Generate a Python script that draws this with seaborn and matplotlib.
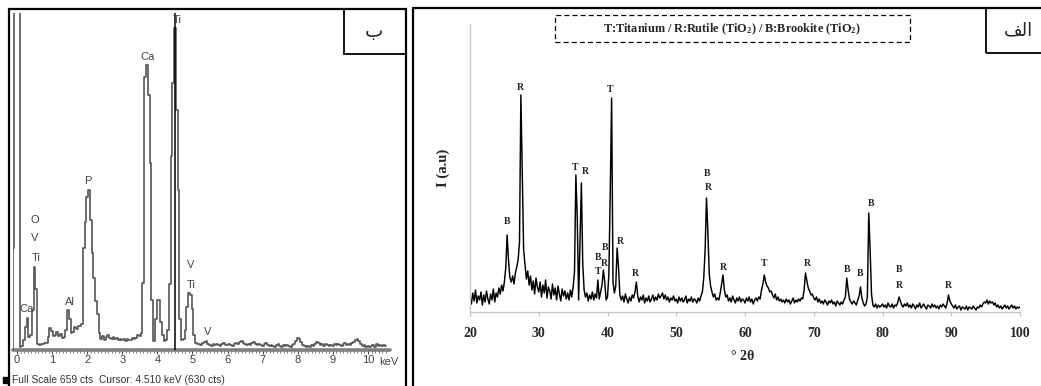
import numpy as np
import matplotlib
matplotlib.use('Agg')
import matplotlib.pyplot as plt
import matplotlib.patches as patches
import seaborn as sns

# ---- EDS spectrum (panel "ب"): counts per 0.05 keV channel, first channel at -0.15 keV
eds_start = -0.15
eds_step = 0.05
eds_counts = [
    0, 200, 800, 800, 800, 6, 8, 20, 45, 63, 25,
    30, 78, 162, 120, 12, 10, 12, 11, 13, 14,
    25, 43, 38, 28, 30, 35, 27, 31, 24, 26,
    40, 78, 60, 33, 36, 45, 42, 47, 46, 50,
    200, 250, 300, 313, 255, 190, 140, 95, 70, 33,
    22, 28, 20, 25, 30, 24, 22, 26, 21, 23,
    20, 22, 19, 21, 18, 22, 20, 19, 23, 21,
    24, 30, 28, 33, 131, 534, 557, 499, 365, 98,
    18, 60, 98, 98, 55, 30, 18, 20, 40, 130,
    380, 522, 630, 470, 313, 60, 20, 22, 40, 85,
    111, 108, 80, 30, 14, 11, 12, 9, 13, 15,
    17, 12, 10, 8, 11, 9, 12, 10, 8, 11,
    13, 10, 9, 12, 10, 8, 11, 14, 12, 16,
    18, 14, 11, 9, 12, 10, 13, 15, 11, 9,
    12, 10, 8, 11, 13, 9, 7, 10, 8, 6,
    9, 11, 8, 6, 9, 7, 10, 8, 6, 9,
    12, 18, 24, 22, 15, 9, 7, 6, 8, 5,
    9, 7, 11, 15, 13, 9, 11, 8, 12, 9,
    7, 10, 8, 11, 9, 12, 10, 8, 11, 13,
    9, 12, 10, 14, 16, 20, 21, 17, 11, 7,
    9, 6, 8, 5, 7, 9, 6, 11, 8, 10,
    7, 9, 8,
]
eds_full_scale = 659
eds_cursor_kev = 4.510
eds_cursor_cts = 630
eds_ticks = list(range(0, 11))

eds_labels = ["Ti", "Ca", "P", "O", "V", "Ti", "Al", "Ca", "V", "Ti", "V"]
eds_label_kev = [4.56, 3.73, 2.02, 0.51, 0.51, 0.54, 1.51, 0.28, 4.96, 4.96, 5.44]
eds_label_cts = [645, 573, 330, 254, 219, 180, 94, 80, 166, 127, 35]

# ---- XRD pattern (panel "الف"): intensity every 0.2 deg from 20 to 100
xrd_start = 20.0
xrd_step = 0.2
xrd_int = [
    14, 8, 19, 11, 22, 9, 16, 12, 20, 7,
    17, 10, 21, 13, 8, 18, 12, 23, 10, 19,
    15, 24, 18, 27, 21, 30, 44, 77, 52, 34,
    30, 36, 28, 39, 45, 52, 70, 217, 140, 62,
    48, 33, 41, 27, 36, 22, 31, 18, 34, 25,
    20, 30, 15, 27, 19, 32, 14, 25, 21, 13,
    28, 17, 24, 12, 26, 18, 11, 23, 16, 21,
    13, 19, 12, 22, 15, 25, 40, 137, 95, 12,
    70, 129, 48, 22, 15, 19, 11, 17, 13, 20,
    12, 18, 14, 32, 13, 20, 27, 42, 30, 12,
    15, 38, 120, 214, 30, 19, 26, 64, 45, 17,
    12, 16, 10, 18, 13, 9, 15, 11, 17, 14,
    20, 30, 16, 10, 15, 12, 17, 9, 14, 11,
    16, 10, 13, 17, 11, 15, 12, 18, 14, 16,
    19, 13, 17, 12, 15, 10, 14, 12, 16, 11,
    13, 9, 15, 11, 14, 10, 12, 16, 9, 13,
    11, 15, 10, 13, 12, 9, 14, 11, 16, 20,
    34, 62, 114, 80, 38, 26, 20, 15, 18, 12,
    14, 12, 19, 28, 37, 22, 15, 17, 11, 14,
    10, 16, 12, 9, 14, 11, 15, 10, 13, 12,
    9, 14, 11, 15, 10, 13, 8, 12, 14, 11,
    15, 13, 22, 28, 37, 30, 26, 24, 20, 21,
    17, 14, 18, 12, 15, 11, 13, 10, 12, 9,
    13, 10, 12, 8, 11, 14, 9, 12, 10, 13,
    11, 14, 13, 22, 39, 31, 24, 21, 17, 18,
    14, 12, 15, 10, 13, 9, 11, 8, 12, 10,
    7, 11, 9, 12, 8, 10, 6, 11, 9, 7,
    10, 8, 12, 15, 34, 22, 13, 10, 8, 11,
    9, 7, 12, 16, 25, 14, 9, 6, 8, 15,
    99, 62, 18, 7, 5, 8, 4, 7, 5, 6,
    8, 5, 7, 4, 9, 6, 5, 8, 4, 7,
    6, 9, 15, 11, 7, 5, 8, 6, 9, 5,
    7, 4, 8, 6, 3, 7, 5, 9, 4, 6,
    8, 5, 3, 7, 6, 4, 8, 5, 7, 4,
    6, 3, 7, 5, 8, 6, 4, 9, 17, 11,
    8, 6, 4, 7, 3, 5, 6, 2, 5, 4,
    3, 6, 2, 5, 4, 3, 6, 4, 2, 5,
    4, 7, 5, 8, 10, 9, 12, 8, 11, 9,
    10, 7, 9, 5, 7, 4, 6, 3, 5, 7,
    4, 6, 3, 5, 7, 4, 6, 3, 5, 4,
    5,
]
xrd_ticks = [20, 30, 40, 50, 60, 70, 80, 90, 100]

xrd_labels = ["B", "R", "T", "R", "T", "B", "R", "B", "T", "R", "R",
              "B", "R", "R", "T", "R", "B", "B", "B", "B", "R", "R"]
xrd_label_pos = [25.4, 27.3, 35.3, 36.7, 38.6, 38.6, 39.6, 39.6, 40.4, 41.9, 44.0,
                 54.5, 54.6, 56.9, 62.8, 69.0, 74.8, 76.7, 78.3, 82.4, 82.4, 89.6]
xrd_label_int = [90, 225, 145, 141, 41, 54, 49, 65, 222, 70, 39,
                 138, 125, 44, 49, 49, 42, 39, 109, 42, 27, 27]

legend_text = "T:Titanium / R:Rutile (TiO$_2$) / B:Brookite (TiO$_2$)"
panel_b = "ب"
# "الف" written in shaped presentation forms (visual order) since matplotlib does no Arabic shaping
panel_a = "\uFED2\uFEDF\uFE8D"

eds_kev = eds_start + eds_step * np.arange(len(eds_counts))
xrd_2theta = xrd_start + xrd_step * np.arange(len(xrd_int))

sns.set_style('white')
plt.rcParams['font.family'] = ['Liberation Sans', 'DejaVu Sans']
plt.rcParams['mathtext.fontset'] = 'custom'
plt.rcParams['mathtext.rm'] = 'Liberation Serif:bold'
plt.rcParams['mathtext.bf'] = 'Liberation Serif:bold'
plt.rcParams['mathtext.it'] = 'Liberation Serif:bold:italic'

W, H = 1041, 386
fig = plt.figure(figsize=(W / 100, H / 100), dpi=100)


def fx(px):
    return px / W


def fy(py):
    return 1 - py / H


serif_bold = dict(family='Liberation Serif', weight='bold')

# ---------------- EDS panel ----------------
ax1 = fig.add_axes([fx(13), fy(350), (390 - 13) / W, (350 - 13) / H])
sns.lineplot(x=eds_kev, y=eds_counts, ax=ax1, color='#555555', lw=1.2,
             drawstyle='steps-mid', sort=False)
ax1.axvline(eds_cursor_kev, color='black', lw=1.1)
ax1.axhline(0, color='#808080', lw=2.6, clip_on=False, zorder=1)
ax1.set_xlim(-0.114, 10.627)
ax1.set_ylim(0, eds_full_scale)
for s in ax1.spines.values():
    s.set_visible(False)
ax1.set_yticks([])
ax1.set_xticks(eds_ticks)
ax1.set_xticks(np.arange(0, 10.51, 0.1), minor=True)
ax1.tick_params(axis='x', which='major', direction='out', length=3, width=0.8,
                color='#444444', labelsize=8, labelcolor='#444444', pad=0.5, bottom=True)
ax1.tick_params(axis='x', which='minor', direction='out', length=2, width=0.6,
                color='#666666', bottom=True)
ax1.set_xlabel('')
ax1.set_ylabel('')
ax1.patch.set_alpha(0)
for t, k, c in zip(eds_labels, eds_label_kev, eds_label_cts):
    ax1.text(k, c, t, ha='center', va='center', fontsize=8, color='#444444')

fig.text(fx(389), fy(362), 'keV', ha='center', va='center', fontsize=8, color='#444444')
fig.text(fx(12), fy(380), 'Full Scale %d cts  Cursor: %.3f keV (%d cts)'
         % (eds_full_scale, eds_cursor_kev, eds_cursor_cts),
         ha='left', va='center', fontsize=7.4, color='#333333')
fig.patches.append(patches.Rectangle((fx(3), fy(383)), 5 / W, 6 / H,
                                     transform=fig.transFigure, color='black'))

# ---------------- XRD panel ----------------
ax2 = fig.add_axes([fx(470), fy(312), 550 / W, 288 / H])
sns.lineplot(x=xrd_2theta, y=xrd_int, ax=ax2, color='black', lw=1.05, sort=False)
ax2.set_xlim(20, 100)
ax2.set_ylim(0, 288)
ax2.spines['top'].set_visible(False)
ax2.spines['right'].set_visible(False)
for side in ['left', 'bottom']:
    ax2.spines[side].set_color('#c4c4c4')
    ax2.spines[side].set_linewidth(0.9)
ax2.set_yticks([])
ax2.set_xticks(xrd_ticks)
ax2.tick_params(axis='x', direction='out', length=3, width=0.9, color='#c4c4c4',
                pad=8, bottom=True)
for lab in ax2.get_xticklabels():
    lab.set_fontfamily('Liberation Serif')
    lab.set_fontweight('bold')
    lab.set_fontsize(10)
ax2.set_xlabel('')
ax2.set_ylabel('')
ax2.patch.set_alpha(0)
for t, p, v in zip(xrd_labels, xrd_label_pos, xrd_label_int):
    ax2.text(p, v, t, ha='center', va='center', fontsize=7, **serif_bold)

fig.text(fx(743), fy(357), '° 2θ', ha='center', va='center', fontsize=10, **serif_bold)
fig.text(fx(443), fy(168), 'I (a.u)', ha='center', va='center', rotation=90,
         fontsize=10.5, **serif_bold)

# legend in dashed box
fig.text(fx(732), fy(29), legend_text, ha='center', va='center', fontsize=8.8, **serif_bold)
fig.patches.append(patches.Rectangle((fx(555), fy(42)), 355 / W, 27 / H,
                                     transform=fig.transFigure, fill=False,
                                     ec='black', lw=0.9, ls=(0, (4, 2.5))))

# ---------------- panel frames and letter boxes ----------------
fig.patches.append(patches.Rectangle((fx(9), -0.05), 397 / W, (H - 9) / H + 0.05,
                                     transform=fig.transFigure, fill=False,
                                     ec='black', lw=1.6))
fig.patches.append(patches.Rectangle((fx(413), -0.05), 640 / W, (H - 8) / H + 0.05,
                                     transform=fig.transFigure, fill=False,
                                     ec='black', lw=1.6))
fig.patches.append(patches.Rectangle((fx(344), fy(54)), 62 / W, 45 / H,
                                     transform=fig.transFigure, fill=False,
                                     ec='black', lw=1.3))
fig.patches.append(patches.Rectangle((fx(986), fy(53)), 70 / W, 45 / H,
                                     transform=fig.transFigure, fill=False,
                                     ec='black', lw=1.3))
fig.text(fx(374), fy(31), panel_b, ha='center', va='center', fontsize=14,
         family='DejaVu Sans')
fig.text(fx(1018), fy(30), panel_a, ha='center', va='center', fontsize=13,
         family='DejaVu Sans')

fig.savefig('out.png', dpi=100, facecolor='white')
